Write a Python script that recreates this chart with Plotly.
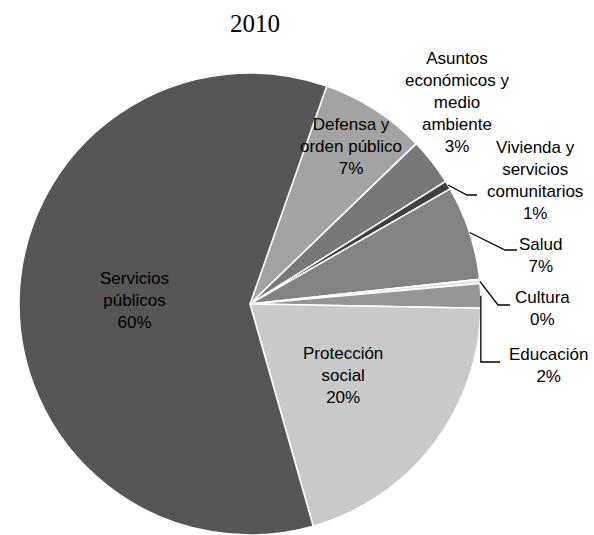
import math
import plotly.graph_objects as go

# Gasto por función, 2010 (porcentaje del total)
categories = [
    "Defensa y<br>orden público",
    "Asuntos<br>económicos y<br>medio<br>ambiente",
    "Vivienda y<br>servicios<br>comunitarios",
    "Salud",
    "Cultura",
    "Educación",
    "Protección<br>social",
    "Servicios<br>públicos",
]
values = [7.4, 3.3, 0.6, 6.6, 0.3, 1.7, 20.3, 59.8]
colors = ["#a3a3a3", "#787878", "#404040", "#838383",
          "#e4e4e4", "#959595", "#c9c9c9", "#565656"]
title_text = "2010"

# Canvas and pie geometry (pixels)
W, H = 594, 535
CX, CY, R = 250, 304, 231
START_DEG = 19.4          # first slice edge, clockwise from 12 o'clock

# Label placement: inside labels by radial fraction, outside labels by pixel centre
inside_frac = {0: 0.81, 6: 0.51, 7: 0.50}
outside_pos = {1: (457, 102), 2: (535, 180), 3: (540, 256), 4: (542, 308), 5: (548, 365)}
# Leader lines: elbow point and end x of the horizontal run
leaders = {2: ((467, 195), 477), 3: ((505, 250), 517),
           4: ((498, 305), 510), 5: (None, 500, 362)}


def px(x, y):
    return x / W, 1 - y / H


total = sum(values)
mids = []
acc = 0.0
for v in values:
    mids.append(START_DEG + (acc + v / 2) / total * 360)
    acc += v

fig = go.Figure(go.Pie(
    labels=[c.replace("<br>", " ") for c in categories],
    values=values,
    sort=False,
    direction="clockwise",
    rotation=START_DEG,
    marker=dict(colors=colors, line=dict(color="white", width=1.5)),
    textinfo="none",
    hoverinfo="label+percent",
    domain=dict(x=[(CX - R) / W, (CX + R) / W], y=[0, 1 - (CY - R) / H]),
    showlegend=False,
))

annotations = []
shapes = []
font = dict(family="Liberation Sans, Arial, sans-serif", size=17, color="black")

for i, (cat, v) in enumerate(zip(categories, values)):
    pct = int(math.floor(v / total * 100 + 0.5))
    text = f"{cat}<br>{pct}%"
    a = math.radians(mids[i])
    if i in inside_frac:
        r = R * inside_frac[i]
        lx, ly = CX + r * math.sin(a), CY - r * math.cos(a)
    else:
        lx, ly = outside_pos[i]
    x, y = px(lx, ly)
    annotations.append(dict(x=x, y=y, xref="paper", yref="paper", text=text,
                            showarrow=False, font=font, align="center",
                            xanchor="center", yanchor="middle"))

    if i in leaders:
        sx, sy = CX + R * math.sin(a), CY - R * math.cos(a)
        spec = leaders[i]
        if spec[0] is None:
            ex, ey = sx, spec[2]
            end_x = spec[1]
        else:
            (ex, ey), end_x = spec
        pts = [(sx, sy), (ex, ey), (end_x, ey)]
        path = "M " + " L ".join(f"{px(p[0], p[1])[0]},{px(p[0], p[1])[1]}" for p in pts)
        shapes.append(dict(type="path", path=path, xref="paper", yref="paper",
                           line=dict(color="black", width=1.3)))

tx, ty = px(255, 24)
annotations.append(dict(x=tx, y=ty, xref="paper", yref="paper", text=title_text,
                        showarrow=False, xanchor="center", yanchor="middle",
                        font=dict(family="Liberation Serif, Times New Roman, serif",
                                  size=25, color="black")))

fig.update_layout(
    width=W, height=H,
    margin=dict(l=0, r=0, t=0, b=0),
    paper_bgcolor="white",
    plot_bgcolor="white",
    annotations=annotations,
    shapes=shapes,
)

fig.write_html("out.html")
